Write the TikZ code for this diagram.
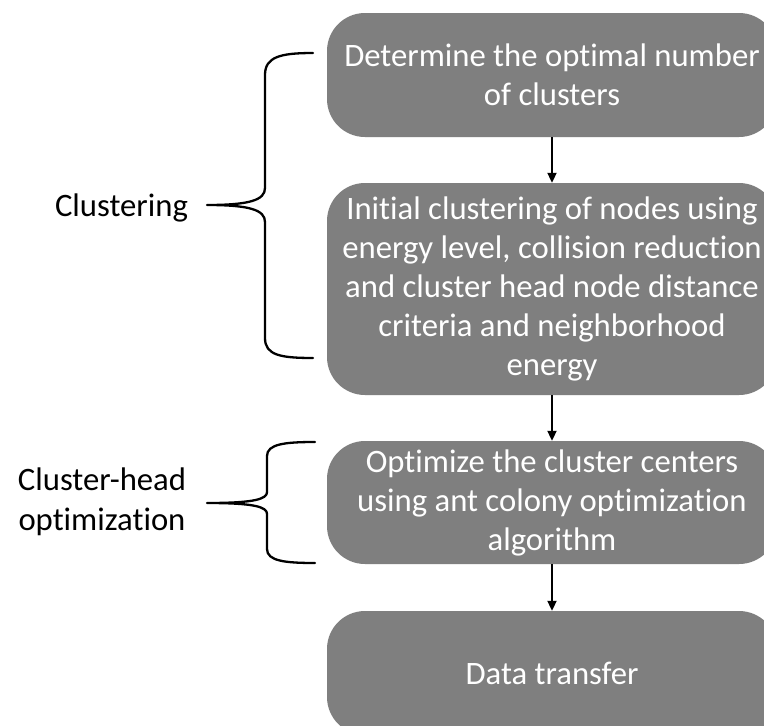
\documentclass[tikz,border=0pt]{standalone}
\usepackage{fontspec}
\setmainfont{Carlito}[Ligatures={NoCommon}]
\usetikzlibrary{arrows.meta}
\definecolor{boxgray}{HTML}{7F7F7F}
\tikzset{
  stepbox/.style={rectangle, rounded corners=38pt, fill=boxgray, draw=none,
    text=white, align=center, minimum width=450pt, inner sep=0pt,
    font=\fontsize{32.7}{39}\selectfont},
  sidelabel/.style={align=center, text=black, inner sep=0pt,
    font=\fontsize{32.7}{40}\selectfont},
  flow/.style={line width=2pt, -{Triangle[length=10pt,width=9pt]}},
  bracepath/.style={line width=2.3pt, line cap=round, line join=round}
}
\begin{document}
\begin{tikzpicture}[x=1pt,y=-1pt]
\clip (0,0) rectangle (764,726);
\fill[white] (0,0) rectangle (764,726);
\node[stepbox, minimum height=124pt] (b1) at (552,75) {Determine the optimal number\\of clusters};
\node[stepbox, minimum height=212pt] (b2) at (552,289) {Initial clustering of nodes using\\energy level, collision reduction\\and cluster head node distance\\criteria and neighborhood\\energy};
\node[stepbox, minimum height=123pt] (b3) at (552,502.5) {Optimize the cluster centers\\using ant colony optimization\\algorithm};
\node[stepbox, minimum height=124pt] (b4) at (552,673) {Data transfer};
\draw[flow] (b1.south) -- (b2.north);
\draw[flow] (b2.south) -- (b3.north);
\draw[flow] (b3.south) -- (b4.north);
\node[sidelabel] (l1) at (121.5,208) {Clustering};
\node[sidelabel] (l2) at (102,502) {Cluster-head\\optimization};
% brace 1
\draw[bracepath] (313,53) .. controls (280,53) and (265,57) .. (265,75) -- (265,188)
  .. controls (265,200) and (250,205) .. (207,205)
  .. controls (250,205) and (265,210) .. (265,222) -- (265,338)
  .. controls (265,355) and (280,358) .. (313,358);
% brace 2
\draw[bracepath] (315,442) .. controls (285,442) and (267,444) .. (267,456) -- (267,492)
  .. controls (267,499) and (255,503) .. (207,503)
  .. controls (255,503) and (267,507) .. (267,514) -- (267,549)
  .. controls (267,561) and (285,563) .. (315,563);
\end{tikzpicture}
\end{document}
